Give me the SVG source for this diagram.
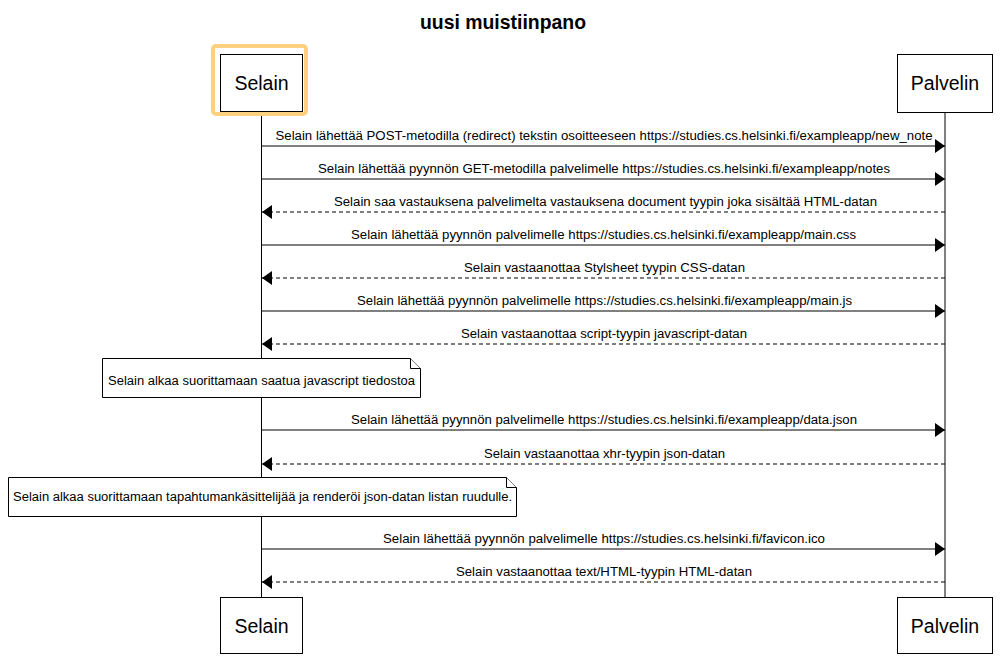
<svg xmlns="http://www.w3.org/2000/svg" width="1006" height="663" viewBox="0 0 1006 663">
<defs>
<style>
.actor{fill:#fff;stroke:#000;stroke-width:1}
.atext{font-family:"Liberation Sans",Arial,sans-serif;font-size:19.5px;fill:#000;text-anchor:middle}
.life{stroke:#000;stroke-width:1;fill:none}
.msg{stroke:#000;stroke-width:1;fill:none}
.dash{stroke-dasharray:4,3}
.lbl{font-family:"Liberation Sans",Arial,sans-serif;font-size:12px;fill:#000;text-anchor:middle}
.note{fill:#fff;stroke:#000;stroke-width:1}
.ntext{font-family:"Liberation Sans",Arial,sans-serif;font-size:12px;fill:#000}
</style>
<marker id="ah" markerWidth="10" markerHeight="14" refX="10" refY="7" orient="auto" markerUnits="userSpaceOnUse">
<path d="M0,0 L10,7 L0,14 z" fill="#000"/>
</marker>
</defs>
<rect width="1006" height="663" fill="#fff"/>
<text x="503" y="29" font-family="Liberation Sans,Arial,sans-serif" font-size="20" font-weight="bold" text-anchor="middle" textLength="166" lengthAdjust="spacingAndGlyphs">uusi muistiinpano</text>

<g id="lifelines">
<line class="life" x1="261.5" y1="111" x2="261.5" y2="597"/>
<line class="life" x1="945" y1="112" x2="945" y2="597"/>
</g>

<g id="actor-selain-top">
<rect x="213" y="46" width="93" height="68" rx="3" fill="none" stroke="#fdd17f" stroke-width="4"/>
<rect class="actor" x="220.5" y="54.5" width="82" height="57"/>
<text class="atext" x="261.5" y="90">Selain</text>
</g>
<g id="actor-palvelin-top">
<rect class="actor" x="897.5" y="54.5" width="95" height="58"/>
<text class="atext" x="945" y="90">Palvelin</text>
</g>

<g id="connectors">
<line class="msg" x1="262" y1="146" x2="945" y2="146" marker-end="url(#ah)"/>
<text class="lbl" x="604" y="140" textLength="657" lengthAdjust="spacingAndGlyphs">Selain lähettää POST-metodilla (redirect) tekstin osoitteeseen https://studies.cs.helsinki.fi/exampleapp/new_note</text>
<line class="msg" x1="262" y1="179" x2="945" y2="179" marker-end="url(#ah)"/>
<text class="lbl" x="604" y="173" textLength="572" lengthAdjust="spacingAndGlyphs">Selain lähettää pyynnön GET-metodilla palvelimelle https://studies.cs.helsinki.fi/exampleapp/notes</text>
<line class="msg dash" x1="945" y1="212" x2="262" y2="212" marker-end="url(#ah)"/>
<text class="lbl" x="605.5" y="206" textLength="543" lengthAdjust="spacingAndGlyphs">Selain saa vastauksena palvelimelta vastauksena document tyypin joka sisältää HTML-datan</text>
<line class="msg" x1="262" y1="245" x2="945" y2="245" marker-end="url(#ah)"/>
<text class="lbl" x="603.5" y="239" textLength="505" lengthAdjust="spacingAndGlyphs">Selain lähettää pyynnön palvelimelle https://studies.cs.helsinki.fi/exampleapp/main.css</text>
<line class="msg dash" x1="945" y1="278" x2="262" y2="278" marker-end="url(#ah)"/>
<text class="lbl" x="604.5" y="272" textLength="281" lengthAdjust="spacingAndGlyphs">Selain vastaanottaa Stylsheet tyypin CSS-datan</text>
<line class="msg" x1="262" y1="311" x2="945" y2="311" marker-end="url(#ah)"/>
<text class="lbl" x="604.5" y="305" textLength="495" lengthAdjust="spacingAndGlyphs">Selain lähettää pyynnön palvelimelle https://studies.cs.helsinki.fi/exampleapp/main.js</text>
<line class="msg dash" x1="945" y1="344" x2="262" y2="344" marker-end="url(#ah)"/>
<text class="lbl" x="604" y="338" textLength="286" lengthAdjust="spacingAndGlyphs">Selain vastaanottaa script-tyypin javascript-datan</text>
<line class="msg" x1="262" y1="430" x2="945" y2="430" marker-end="url(#ah)"/>
<text class="lbl" x="604" y="424" textLength="506" lengthAdjust="spacingAndGlyphs">Selain lähettää pyynnön palvelimelle https://studies.cs.helsinki.fi/exampleapp/data.json</text>
<line class="msg dash" x1="945" y1="464" x2="262" y2="464" marker-end="url(#ah)"/>
<text class="lbl" x="604.5" y="458" textLength="241" lengthAdjust="spacingAndGlyphs">Selain vastaanottaa xhr-tyypin json-datan</text>
<line class="msg" x1="262" y1="549" x2="945" y2="549" marker-end="url(#ah)"/>
<text class="lbl" x="604" y="543" textLength="442" lengthAdjust="spacingAndGlyphs">Selain lähettää pyynnön palvelimelle https://studies.cs.helsinki.fi/favicon.ico</text>
<line class="msg dash" x1="945" y1="582" x2="262" y2="582" marker-end="url(#ah)"/>
<text class="lbl" x="604" y="576" textLength="296" lengthAdjust="spacingAndGlyphs">Selain vastaanottaa text/HTML-tyypin HTML-datan</text>
</g>

<g id="note1">
<path class="note" d="M102.5,358.5 H410.5 L420.5,368.5 V397.5 H102.5 Z"/>
<path class="note" d="M410.5,358.5 V368.5 H420.5" fill="none"/>
<text class="ntext" x="108" y="385" textLength="307" lengthAdjust="spacingAndGlyphs">Selain alkaa suorittamaan saatua javascript tiedostoa</text>
</g>
<g id="note2">
<path class="note" d="M8.5,477.5 H506.5 L516.5,487.5 V516.5 H8.5 Z"/>
<path class="note" d="M506.5,477.5 V487.5 H516.5" fill="none"/>
<text class="ntext" x="13" y="501" textLength="499" lengthAdjust="spacingAndGlyphs">Selain alkaa suorittamaan tapahtumankäsittelijää ja renderöi json-datan listan ruudulle.</text>
</g>

<g id="actor-selain-bottom">
<rect class="actor" x="220.5" y="597.5" width="82" height="56"/>
<text class="atext" x="261.5" y="633">Selain</text>
</g>
<g id="actor-palvelin-bottom">
<rect class="actor" x="897.5" y="597.5" width="95" height="56"/>
<text class="atext" x="945" y="633">Palvelin</text>
</g>
</svg>
